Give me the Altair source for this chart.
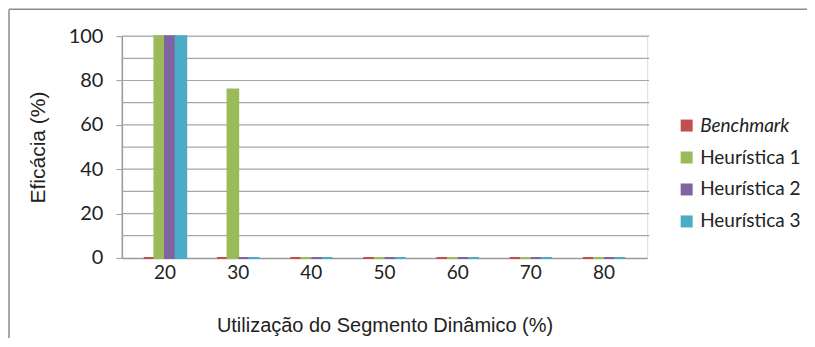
import altair as alt
import pandas as pd

categories = ["20", "30", "40", "50", "60", "70", "80"]
series = ["Benchmark", "Heurística 1", "Heurística 2", "Heurística 3"]
benchmark = [0, 0, 0, 0, 0, 0, 0]
heur1 = [100, 76, 0, 0, 0, 0, 0]
heur2 = [100, 0, 0, 0, 0, 0, 0]
heur3 = [100, 0, 0, 0, 0, 0, 0]
colors = ["#C0504D", "#9BBB59", "#8064A2", "#4BACC6"]
y_labels = [0, 20, 40, 60, 80, 100]
y_grid = [10, 20, 30, 40, 50, 60, 70, 80, 90, 100]

rows = []
for s, vals in zip(series, [benchmark, heur1, heur2, heur3]):
    for c, v in zip(categories, vals):
        rows.append({"cat": c, "series": s, "value": v})
df = pd.DataFrame(rows)
grid_df = pd.DataFrame({"g": y_grid})

font = "Lato"
ink = "#222222"

yscale = alt.Scale(domain=[0, 100], nice=False)
y_axis = alt.Axis(title="Eficácia (%)", values=y_labels,
                  labelFont=font, labelFontSize=20, labelColor=ink,
                  titleFont="Liberation Sans", titleFontSize=21, titleFontWeight="normal",
                  titleColor=ink, titlePadding=20, labelPadding=13,
                  grid=False, domainColor="#9A9A9A", domainWidth=1.5,
                  tickColor="#9A9A9A", tickSize=6)

grid = alt.Chart(grid_df).mark_rule(color="#A6A6A6", strokeWidth=1.2).encode(
    y=alt.Y("g:Q", scale=yscale, axis=y_axis),
    x=alt.value(0), x2=alt.value(528),
)

bars = alt.Chart(df).mark_bar(strokeWidth=2).encode(
    x=alt.X("cat:N", sort=categories,
            scale=alt.Scale(paddingInner=0.42, paddingOuter=0.3),
            axis=alt.Axis(title="Utilização do Segmento Dinâmico (%)", labelAngle=0,
                          labelFont=font, labelFontSize=19, labelColor=ink,
                          titleFont="Liberation Sans", titleFontSize=20, titleFontWeight="normal",
                          titleColor=ink, titlePadding=33, labelPadding=6,
                          domainColor="#9A9A9A", domainWidth=1.5, ticks=False)),
    xOffset=alt.XOffset("series:N", sort=series),
    y=alt.Y("value:Q", scale=yscale, axis=y_axis),
    color=alt.Color("series:N", sort=series, scale=alt.Scale(domain=series, range=colors),
                    legend=alt.Legend(title=None, orient="none", legendX=556, legendY=80,
                                      symbolType="square", symbolSize=144,
                                      labelFont=font, labelFontSize=19, labelColor=ink,
                                      labelFontStyle={"expr": "datum.label == 'Benchmark' ? 'italic' : 'normal'"},
                                      labelOffset=4,
                                      rowPadding=12, symbolStrokeWidth=0)),
    stroke=alt.Stroke("series:N", sort=series, scale=alt.Scale(domain=series, range=colors),
                      legend=None),
)

frame = alt.Chart(pd.DataFrame({"k": [0]})).mark_rule(color="#8C8C8C", strokeWidth=1.5).encode(
    x=alt.value(-113), x2=alt.value(700), y=alt.value(-27)
)
frame2 = alt.Chart(pd.DataFrame({"k": [0]})).mark_rule(color="#8C8C8C", strokeWidth=1.5).encode(
    x=alt.value(-113), y=alt.value(-27), y2=alt.value(320)
)

chart = alt.layer(frame, frame2, grid, bars).properties(
    width=526, height=222,
    autosize=alt.AutoSizeParams(type="none"),
    padding={"left": 114, "top": 28, "right": 160, "bottom": 80},
).configure_view(stroke=None).configure(background="white")

chart.save("out.html", embed_options={"renderer": "svg", "actions": False})
